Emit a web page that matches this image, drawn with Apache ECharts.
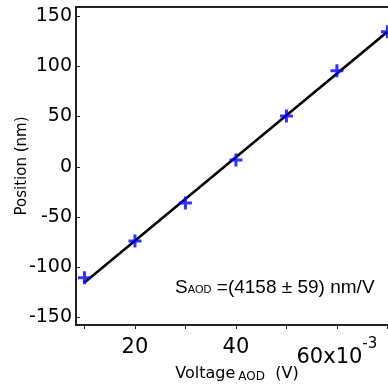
<!DOCTYPE html>
<html>
<head>
<meta charset="utf-8">
<script src="https://cdn.jsdelivr.net/npm/echarts@6/dist/echarts.min.js"></script>
<style>html,body{margin:0;padding:0;background:#fff}#c{width:388px;height:389px}</style>
</head>
<body>
<div id="c"></div>
<script>
// Data (voltage in V, position in nm)
const voltage = [0.010, 0.020, 0.030, 0.040, 0.050, 0.060, 0.070];
const position = [-110.4, -73.9, -36.0, 6.7, 50.5, 95.6, 134.4];
// Linear fit line endpoints
const fitVoltage = [0.010, 0.070];
const fitPosition = [-115.2, 134.3];
// Ticks
const xTicks = [0.010, 0.020, 0.030, 0.040, 0.050, 0.060, 0.070];
const xLabels = [0.020, 0.040, 0.060];
const yTicks = [-150, -100, -50, 0, 50, 100, 150];

const FONT = 'DejaVu Sans';
const AFONT = 'Liberation Sans';
const chart = echarts.init(document.getElementById('c'), null, {renderer: 'canvas'});
const plus = 'path://M5,0h3v5h5v3h-5v5h-3v-5h-5v-3h5z';

chart.setOption({
  animation: false,
  backgroundColor: '#fff',
  grid: {left: 76, top: 7, width: 322, height: 318, containLabel: false, outerBoundsMode: 'none',
         show: true, borderColor: '#222', borderWidth: 2, backgroundColor: 'transparent'},
  xAxis: {
    type: 'value', min: 0.00832, max: 0.0721,
    splitLine: {show: false},
    axisLine: {show: true, onZero: false, lineStyle: {color: '#222', width: 2}},
    axisTick: {show: true, inside: false, length: 4, lineStyle: {color: '#222', width: 1}, customValues: xTicks},
    axisLabel: {
      customValues: xLabels, margin: 12, color: '#000', fontFamily: FONT, fontSize: 21,
      formatter: function (v) {
        const m = Math.round(v * 1000);
        if (m === 60) return '{m|60x10}{e|-3}';
        return String(m);
      },
      rich: {
        m: {fontFamily: FONT, fontSize: 21, color: '#000', padding: [10, 0, 0, 0]},
        e: {fontFamily: FONT, fontSize: 15, color: '#000', verticalAlign: 'top'}
      }
    },
    name: '{a|Voltage}{s|AOD}{a|  (V)}',
    nameLocation: 'middle', nameGap: 40, nameMoveOverlap: false,
    nameTextStyle: {
      rich: {
        a: {fontFamily: FONT, fontSize: 16, color: '#000'},
        s: {fontFamily: FONT, fontSize: 12, color: '#000', padding: [6, 0, 0, 3]}
      }
    }
  },
  yAxis: {
    type: 'value', min: -157.5, max: 159,
    splitLine: {show: false},
    axisLine: {show: true, onZero: false, lineStyle: {color: '#222', width: 2}},
    axisTick: {show: true, inside: true, length: 4, lineStyle: {color: '#222', width: 1}, customValues: yTicks},
    axisLabel: {customValues: yTicks, margin: 4, color: '#000', fontFamily: FONT, fontSize: 19},
    name: 'Position (nm)', nameLocation: 'middle', nameGap: 46, nameMoveOverlap: false,
    nameTextStyle: {fontFamily: FONT, fontSize: 15, color: '#000'}
  },
  series: [
    {
      type: 'line', data: fitVoltage.map((v, i) => [v, fitPosition[i]]),
      showSymbol: false, symbol: 'none', lineStyle: {color: '#000', width: 2.5}, z: 2
    },
    {
      type: 'scatter', data: voltage.map((v, i) => [v, position[i]]),
      symbol: plus, symbolSize: 13, itemStyle: {color: '#0000ff'}, z: 3
    }
  ],
  graphic: [{
    type: 'text', left: 175, top: 278,
    style: {
      text: '{a|S}{s|AOD}{a| =(4158 ± 59) nm/V}',
      rich: {
        a: {fontFamily: AFONT, fontSize: 19, fill: '#000'},
        s: {fontFamily: AFONT, fontSize: 11, fill: '#000', padding: [5, 0, 0, 0]}
      }
    }
  }]
});
</script>
</body>
</html>
